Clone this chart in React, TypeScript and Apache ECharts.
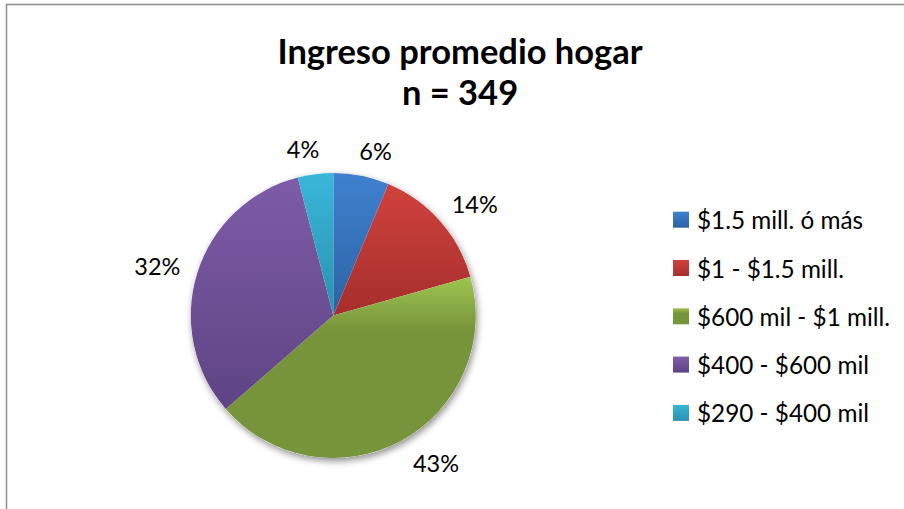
import React, { useEffect, useRef } from "react";
import * as echarts from "echarts";

const TITLE = "Ingreso promedio hogar";
const SUBTITLE = "n = 349";
const categories = [
  "$1.5 mill. ó más",
  "$1 - $1.5 mill.",
  "$600 mil - $1 mill.",
  "$400 - $600 mil",
  "$290 - $400 mil",
];
const counts = [22, 50, 150, 113, 14];
const topColors = ["#3f81cf", "#d0413d", "#9ec54f", "#7e5ca8", "#38b7da"];
const bottomColors = ["#2c62a3", "#a52f2c", "#76943a", "#5e4484", "#2a91ae"];

const FONT = "Lato, 'Open Sans', sans-serif";

export default function App() {
  const ref = useRef<HTMLDivElement>(null);
  useEffect(() => {
    if (!ref.current) return;
    const chart = echarts.init(ref.current, undefined, { renderer: "svg" });
    const total = counts.reduce((a, b) => a + b, 0);
    const data = categories.map((name, i) => ({
      name,
      value: counts[i],
      label: i === 2 ? { distanceToLabelLine: 0 } : undefined,
      itemStyle: {
        color: new echarts.graphic.LinearGradient(0, 0, 0, 1, [
          { offset: 0, color: topColors[i] },
          { offset: i === 2 ? 0.3 : 1, color: bottomColors[i] },
          { offset: 1, color: bottomColors[i] },
        ]),
      },
    }));
    chart.setOption({
      animation: false,
      backgroundColor: "#ffffff",
      textStyle: { fontFamily: FONT },
      graphic: [
        {
          type: "rect",
          shape: { x: 6.5, y: 4.5, width: 1000, height: 1000 },
          style: { fill: "none", stroke: "#8c8c8c", lineWidth: 1.5 },
          silent: true,
          z: -10,
        },
      ],
      title: {
        text: TITLE + "\n" + SUBTITLE,
        left: 455,
        top: 25,
        textAlign: "center",
        textStyle: {
          fontFamily: FONT,
          fontSize: 34.5,
          fontWeight: "bold",
          color: "#000000",
          lineHeight: 41,
        },
      },
      legend: {
        data: categories,
        orient: "vertical",
        left: 668,
        top: 202.2,
        itemWidth: 16,
        itemHeight: 16,
        itemGap: 23.3,
        icon: "rect",
        textStyle: {
          fontFamily: FONT,
          fontSize: 24.3,
          lineHeight: 25,
          color: "#000000",
          padding: [0, 0, 0, 3],
        },
      },
      series: [
        {
          type: "pie",
          silent: true,
          center: [333.3, 315.5],
          radius: 142.5,
          z: 1,
          label: { show: false },
          labelLine: { show: false },
          data: [{ value: total, name: "" }],
          itemStyle: {
            color: "#ffffff",
            shadowBlur: 7,
            shadowOffsetX: 1.5,
            shadowOffsetY: 3,
            shadowColor: "rgba(0,0,0,0.45)",
          },
        },
        {
          type: "pie",
          name: TITLE,
          center: [333.3, 315.5],
          radius: 142.5,
          startAngle: 90,
          clockwise: true,
          z: 2,
          avoidLabelOverlap: false,
          label: {
            show: true,
            position: "outside",
            fontFamily: FONT,
            fontSize: 23.5,
            color: "#000000",
            distanceToLabelLine: -7,
            formatter: (p: any) => Math.round((p.value / total) * 100) + "%",
          },
          labelLine: { show: false, length: 25, length2: 0 },
          itemStyle: { borderWidth: 0 },
          data,
        },
      ],
    });
    return () => chart.dispose();
  }, []);
  return (
    <div
      ref={ref}
      style={{ position: "absolute", left: 0, top: 0, width: 904, height: 509 }}
    />
  );
}
